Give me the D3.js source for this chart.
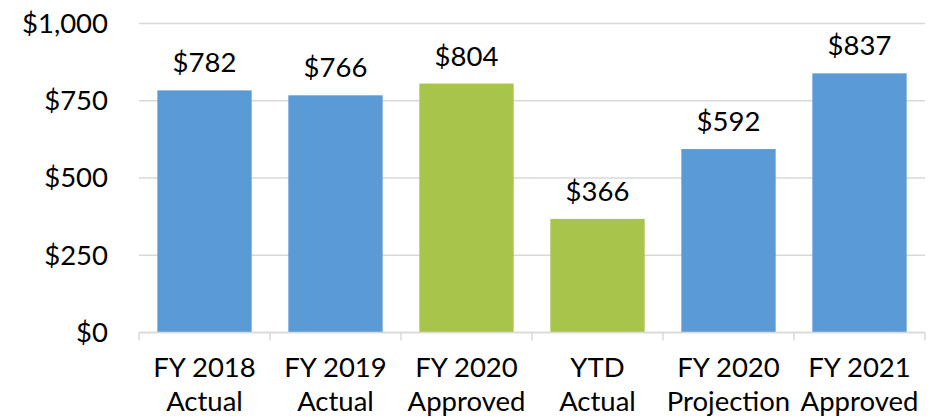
<!DOCTYPE html>
<html>
<head>
<meta charset="utf-8">
<script src="https://cdn.jsdelivr.net/npm/d3@7"></script>
<style>
  body { margin: 0; background: #fff; }
  svg text { font-family: "Lato", "Open Sans", sans-serif; fill: #000; }
</style>
</head>
<body>
<svg id="chart" width="943" height="418"></svg>
<script>
const categories = [
  ["FY 2018", "Actual"],
  ["FY 2019", "Actual"],
  ["FY 2020", "Approved"],
  ["YTD", "Actual"],
  ["FY 2020", "Projection"],
  ["FY 2021", "Approved"]
];
const values = [782, 766, 804, 366, 592, 837];
const kinds = ["actual", "actual", "budget", "budget", "actual", "actual"];
const yTicks = [0, 250, 500, 750, 1000];

const colors = { actual: "#5B9BD5", budget: "#A9C44B" };

const svg = d3.select("#chart");
const margin = { left: 139, right: 18, top: 23, bottom: 86 };
const width = 943, height = 418;
const fontSize = "27.5px";

const x = d3.scaleBand()
  .domain(d3.range(values.length))
  .range([margin.left, width - margin.right])
  .paddingInner(0.28)
  .paddingOuter(0.14);

const y = d3.scaleLinear()
  .domain([0, 1000])
  .range([height - margin.bottom, margin.top]);

// gridlines
svg.append("g")
  .selectAll("line")
  .data(yTicks)
  .join("line")
  .attr("x1", margin.left)
  .attr("x2", width - margin.right)
  .attr("y1", d => y(d) + 0.5)
  .attr("y2", d => y(d) + 0.5)
  .attr("stroke", "#d9d9d9")
  .attr("stroke-width", 1.5);

// y tick labels
svg.append("g")
  .selectAll("text")
  .data(yTicks)
  .join("text")
  .attr("x", 108)
  .attr("y", d => y(d))
  .attr("dy", "0.36em")
  .attr("text-anchor", "end")
  .style("font-size", fontSize)
  .text(d => "$" + d3.format(",")(d));

// bars
svg.append("g")
  .selectAll("rect")
  .data(values)
  .join("rect")
  .attr("x", (d, i) => x(i))
  .attr("width", x.bandwidth())
  .attr("y", d => y(d))
  .attr("height", d => y(0) - y(d))
  .attr("fill", (d, i) => colors[kinds[i]]);

// value labels
svg.append("g")
  .selectAll("text")
  .data(values)
  .join("text")
  .attr("x", (d, i) => x(i) + x.bandwidth() / 2)
  .attr("y", d => y(d) - 18)
  .attr("text-anchor", "middle")
  .style("font-size", fontSize)
  .text(d => "$" + d);

// x axis line and ticks
const step = x.step();
const axisY = y(0) + 0.5;
svg.append("line")
  .attr("x1", margin.left)
  .attr("x2", width - margin.right)
  .attr("y1", axisY)
  .attr("y2", axisY)
  .attr("stroke", "#d9d9d9")
  .attr("stroke-width", 1.5);

const boundaries = d3.range(values.length + 1).map(i => margin.left + i * step);
svg.append("g")
  .selectAll("line")
  .data(boundaries)
  .join("line")
  .attr("x1", d => d)
  .attr("x2", d => d)
  .attr("y1", axisY)
  .attr("y2", axisY + 8)
  .attr("stroke", "#d9d9d9")
  .attr("stroke-width", 1.5);

// category labels
const cat = svg.append("g")
  .selectAll("text")
  .data(categories)
  .join("text")
  .attr("x", (d, i) => x(i) + x.bandwidth() / 2)
  .attr("text-anchor", "middle")
  .style("font-size", fontSize);
cat.append("tspan")
  .attr("x", (d, i) => x(i) + x.bandwidth() / 2)
  .attr("y", 377)
  .text(d => d[0]);
cat.append("tspan")
  .attr("x", (d, i) => x(i) + x.bandwidth() / 2)
  .attr("y", 411)
  .text(d => d[1]);
</script>
</body>
</html>
